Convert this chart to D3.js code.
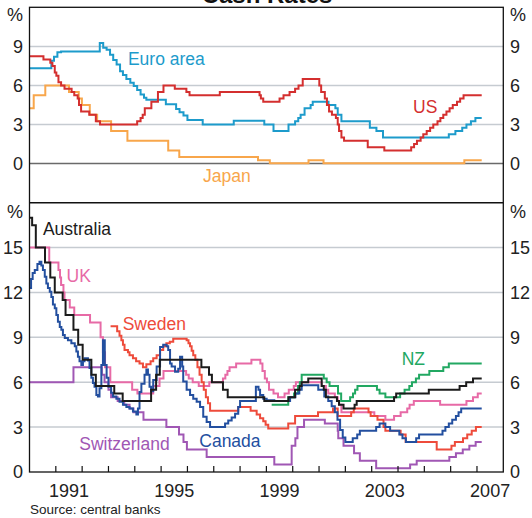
<!DOCTYPE html>
<meta charset="utf-8">
<style>
body { margin: 0; background: #fff; }
svg text { font-family: Arial, "Liberation Sans", Helvetica, sans-serif; }
.tick text, .lbl { font-size: 18px; fill: #222; }
.grid { stroke: #c6cbd1; stroke-width: 1.5; }
.series { fill: none; stroke-width: 2; }
</style>
<body>
<script src="https://d3js.org/d3.v7.min.js"></script>
<script>

// [year, rate %] step data, each value holds until the next entry
let us = [[1990.0,8.25],[1990.53,8.0],[1990.79,7.75],[1990.87,7.5],[1990.96,7.0],[1991.02,6.75],[1991.1,6.25],[1991.2,6.0],[1991.33,5.75],[1991.6,5.5],[1991.7,5.25],[1991.83,5.0],[1991.88,4.5],[1991.96,4.0],[1992.27,3.75],[1992.52,3.25],[1992.68,3.0],[1994.09,3.25],[1994.22,3.5],[1994.3,3.75],[1994.38,4.25],[1994.63,4.75],[1994.88,5.5],[1995.09,6.0],[1995.52,5.75],[1995.96,5.5],[1996.08,5.25],[1997.23,5.5],[1998.74,5.25],[1998.79,5.0],[1998.88,4.75],[1999.5,5.0],[1999.65,5.25],[1999.88,5.5],[2000.09,5.75],[2000.22,6.0],[2000.38,6.5],[2001.01,6.0],[2001.08,5.5],[2001.22,5.0],[2001.3,4.5],[2001.38,4.0],[2001.49,3.75],[2001.64,3.5],[2001.71,3.0],[2001.76,2.5],[2001.85,2.0],[2001.95,1.75],[2002.85,1.25],[2003.48,1.0],[2004.5,1.25],[2004.61,1.5],[2004.72,1.75],[2004.86,2.0],[2004.96,2.25],[2005.09,2.5],[2005.22,2.75],[2005.34,3.0],[2005.5,3.25],[2005.61,3.5],[2005.72,3.75],[2005.84,4.0],[2005.96,4.25],[2006.08,4.5],[2006.24,4.75],[2006.36,5.0],[2006.49,5.25],[2007.18,5.25]];

let euro = [[1990.0,7.33],[1990.83,7.9],[1990.93,8.2],[1991.06,8.55],[1991.2,8.6],[1992.67,9.25],[1992.8,8.9],[1992.93,8.75],[1993.06,8.35],[1993.18,7.95],[1993.31,7.6],[1993.44,7.1],[1993.55,6.8],[1993.68,6.5],[1993.83,6.2],[1993.96,5.95],[1994.09,5.65],[1994.22,5.3],[1994.35,5.05],[1994.44,4.9],[1995.18,4.55],[1995.57,4.2],[1995.7,3.95],[1995.85,3.7],[1996.0,3.35],[1996.58,3.0],[1997.76,3.3],[1998.92,3.0],[1999.27,2.5],[1999.84,3.0],[2000.09,3.25],[2000.21,3.5],[2000.3,3.75],[2000.45,4.25],[2000.68,4.5],[2000.76,4.75],[2001.36,4.5],[2001.62,4.25],[2001.71,3.75],[2001.85,3.25],[2002.93,2.75],[2003.18,2.5],[2003.43,2.0],[2005.93,2.25],[2006.18,2.5],[2006.44,2.75],[2006.6,3.0],[2006.77,3.25],[2006.94,3.5],[2007.18,3.5]];

let japan = [[1990.0,4.25],[1990.16,5.25],[1990.6,6.0],[1991.5,5.5],[1991.87,5.0],[1991.99,4.5],[1992.29,3.75],[1992.57,3.25],[1993.1,2.5],[1993.72,1.75],[1995.27,1.0],[1995.69,0.5],[1998.68,0.25],[1999.13,0.02],[2000.6,0.25],[2001.17,0.02],[2006.52,0.25],[2007.18,0.25]];

let australia = [[1990.0,17.0],[1990.1,16.5],[1990.24,15.0],[1990.59,14.0],[1990.79,13.0],[1990.96,12.0],[1991.26,11.5],[1991.37,10.5],[1991.67,9.5],[1991.85,8.5],[1992.02,7.5],[1992.35,6.5],[1992.52,5.75],[1993.22,5.25],[1993.54,4.75],[1994.62,5.5],[1994.81,6.5],[1994.95,7.5],[1996.53,7.0],[1996.82,6.5],[1996.93,6.0],[1997.35,5.5],[1997.53,5.0],[1998.92,4.75],[1999.84,5.0],[2000.09,5.5],[2000.26,5.75],[2000.34,6.0],[2000.59,6.25],[2001.1,5.75],[2001.18,5.5],[2001.26,5.0],[2001.68,4.75],[2001.76,4.5],[2001.93,4.25],[2002.35,4.5],[2002.43,4.75],[2003.85,5.0],[2003.93,5.25],[2005.17,5.5],[2006.34,5.75],[2006.59,6.0],[2006.85,6.25],[2007.18,6.25]];

let uk = [[1990.0,15.0],[1990.75,14.0],[1991.1,13.5],[1991.16,13.0],[1991.2,12.5],[1991.29,12.0],[1991.33,11.5],[1991.53,11.0],[1991.7,10.5],[1992.3,10.0],[1992.7,9.0],[1992.79,8.0],[1992.87,7.0],[1993.07,6.0],[1993.9,5.5],[1994.1,5.25],[1994.7,5.75],[1994.94,6.25],[1995.09,6.75],[1995.95,6.5],[1996.05,6.25],[1996.2,6.0],[1996.43,5.75],[1996.83,6.0],[1997.35,6.25],[1997.44,6.5],[1997.52,6.75],[1997.6,7.0],[1997.85,7.25],[1998.43,7.5],[1998.77,7.25],[1998.85,6.75],[1998.94,6.25],[1999.02,6.0],[1999.1,5.5],[1999.27,5.25],[1999.44,5.0],[1999.69,5.25],[1999.85,5.5],[2000.04,5.75],[2000.12,6.0],[2001.1,5.75],[2001.26,5.5],[2001.35,5.25],[2001.6,5.0],[2001.71,4.75],[2001.76,4.5],[2001.85,4.0],[2003.1,3.75],[2003.52,3.5],[2003.85,3.75],[2004.1,4.0],[2004.35,4.25],[2004.44,4.5],[2004.6,4.75],[2005.6,4.5],[2006.6,4.75],[2006.85,5.0],[2007.03,5.25],[2007.18,5.25]];

let sweden = [[1993.08,9.75],[1993.33,9.4],[1993.42,9.1],[1993.49,8.8],[1993.55,8.5],[1993.61,8.15],[1993.74,8.0],[1993.8,7.8],[1993.93,7.6],[1994.05,7.4],[1994.18,7.25],[1994.31,7.0],[1994.44,7.2],[1994.6,7.4],[1994.7,7.6],[1994.83,7.8],[1994.96,8.15],[1995.08,8.4],[1995.2,8.6],[1995.33,8.7],[1995.46,8.91],[1995.97,8.81],[1996.04,8.61],[1996.1,8.41],[1996.16,8.11],[1996.22,7.81],[1996.3,7.5],[1996.38,7.0],[1996.46,6.5],[1996.54,6.0],[1996.62,5.5],[1996.7,5.0],[1996.78,4.6],[1996.86,4.1],[1997.93,4.35],[1998.4,4.1],[1998.63,3.85],[1998.76,3.6],[1998.88,3.4],[1998.97,3.15],[1999.07,2.9],[1999.83,3.25],[2000.09,3.75],[2000.96,4.0],[2001.53,4.25],[2001.71,3.75],[2002.22,4.0],[2002.32,4.25],[2002.88,4.0],[2002.96,3.75],[2003.22,3.5],[2003.45,3.0],[2003.52,2.75],[2004.1,2.5],[2004.29,2.0],[2005.47,1.5],[2006.03,1.75],[2006.16,2.0],[2006.47,2.25],[2006.63,2.5],[2006.8,2.75],[2006.96,3.0],[2007.18,3.0]];

let canada = [[1990.0,12.3],[1990.06,12.9],[1990.12,13.3],[1990.2,13.5],[1990.3,13.9],[1990.38,14.05],[1990.45,13.8],[1990.51,13.5],[1990.58,13.05],[1990.64,12.6],[1990.7,12.3],[1990.77,12.05],[1990.83,11.7],[1990.89,11.2],[1990.96,10.95],[1991.02,10.5],[1991.08,10.05],[1991.15,9.7],[1991.21,9.5],[1991.27,9.15],[1991.34,8.95],[1991.46,8.8],[1991.59,8.6],[1991.72,8.4],[1991.78,8.05],[1991.84,7.7],[1991.9,7.4],[1991.97,7.15],[1992.03,7.4],[1992.09,7.6],[1992.22,7.45],[1992.28,6.95],[1992.35,6.3],[1992.41,5.95],[1992.47,5.7],[1992.54,5.15],[1992.6,5.05],[1992.66,5.6],[1992.73,7.15],[1992.79,8.8],[1992.86,7.15],[1992.93,6.3],[1993.0,5.7],[1993.1,5.3],[1993.17,5.05],[1993.3,4.9],[1993.42,4.7],[1993.55,4.5],[1993.68,4.35],[1993.8,4.25],[1993.93,4.05],[1994.06,3.85],[1994.12,4.25],[1994.18,5.35],[1994.25,5.9],[1994.37,6.5],[1994.44,6.85],[1994.5,6.5],[1994.56,5.7],[1994.62,5.4],[1994.7,6.15],[1994.83,7.05],[1994.96,8.35],[1995.08,8.5],[1995.21,8.4],[1995.27,8.15],[1995.34,7.25],[1995.4,7.05],[1995.53,6.7],[1995.65,6.9],[1995.72,7.7],[1995.8,7.05],[1995.84,6.05],[1995.97,5.5],[1996.1,5.15],[1996.22,4.9],[1996.35,4.7],[1996.48,4.35],[1996.6,3.7],[1996.73,3.35],[1996.86,3.0],[1997.43,3.25],[1997.55,3.45],[1997.68,3.65],[1997.81,3.9],[1997.93,4.35],[1998.0,4.75],[1998.6,5.7],[1998.7,5.5],[1998.76,5.15],[1998.88,4.9],[1999.01,4.8],[1999.3,4.75],[1999.9,5.0],[2000.1,5.25],[2000.25,5.5],[2000.34,5.8],[2000.97,5.5],[2001.2,5.05],[2001.35,4.75],[2001.48,4.4],[2001.6,4.0],[2001.7,3.5],[2001.8,2.8],[2001.9,2.3],[2002.0,2.0],[2002.28,2.25],[2002.45,2.5],[2002.55,2.75],[2003.17,3.0],[2003.3,3.25],[2003.52,3.0],[2003.7,2.75],[2004.05,2.5],[2004.17,2.25],[2004.3,2.0],[2004.69,2.25],[2004.8,2.5],[2005.69,2.75],[2005.8,3.0],[2005.93,3.25],[2006.06,3.5],[2006.2,3.75],[2006.3,4.0],[2006.4,4.25],[2007.18,4.25]];

let nz = [[1999.2,4.5],[1999.83,5.0],[2000.05,5.25],[2000.2,5.75],[2000.27,6.0],[2000.34,6.5],[2001.18,6.25],[2001.29,6.0],[2001.4,5.75],[2001.72,5.25],[2001.84,4.75],[2002.18,5.0],[2002.29,5.25],[2002.37,5.5],[2002.46,5.75],[2003.2,5.5],[2003.3,5.25],[2003.52,5.0],[2004.08,5.25],[2004.25,5.5],[2004.43,5.75],[2004.53,6.0],[2004.68,6.25],[2004.8,6.5],[2005.19,6.75],[2005.72,7.0],[2005.93,7.25],[2007.18,7.25]];

let switzerland = [[1990.0,6.0],[1991.67,7.0],[1992.75,6.5],[1992.85,6.0],[1993.0,5.5],[1993.1,5.0],[1993.35,4.75],[1993.6,4.5],[1993.8,4.25],[1993.95,4.0],[1994.33,3.5],[1995.2,3.0],[1995.68,2.5],[1995.85,2.0],[1995.98,1.5],[1996.73,1.0],[1999.3,0.5],[1999.96,1.75],[2000.1,2.25],[2000.18,3.0],[2000.43,3.5],[2001.22,3.25],[2001.71,2.75],[2001.73,2.25],[2001.93,1.75],[2002.33,1.25],[2002.55,0.75],[2003.17,0.25],[2004.46,0.5],[2004.71,0.75],[2005.95,1.0],[2006.2,1.25],[2006.46,1.5],[2006.71,1.75],[2006.95,2.0],[2007.18,2.0]];

let topTicks = [0, 3, 6, 9];
let botTicks = [0, 3, 6, 9, 12, 15];
let yearLabels = [1991, 1995, 1999, 2003, 2007];

let width = 532;
let height = 518;
let left = 29.5, right = 503.3;
let topY0 = 7.3, midY = 202.7, botY = 472;

let svg = d3.select("body").append("svg")
    .attr("width", width)
    .attr("height", height);

let x = d3.scaleLinear().domain([1990, 2008]).range([left, right]);
let yTop = d3.scaleLinear().domain([-3, 12]).range([midY, topY0]);
let yBot = d3.scaleLinear().domain([0, 18]).range([botY, midY]);

// gridlines
svg.selectAll(".gt").data(topTicks).enter().append("line")
    .attr("class", "grid")
    .attr("x1", left).attr("x2", right)
    .attr("y1", d => yTop(d)).attr("y2", d => yTop(d))
    .style("stroke", d => d === 0 ? "#6a6a6a" : null);
svg.selectAll(".gb").data(botTicks.filter(d => d > 0)).enter().append("line")
    .attr("class", "grid")
    .attr("x1", left).attr("x2", right)
    .attr("y1", d => yBot(d)).attr("y2", d => yBot(d));

// clip paths
let defs = svg.append("defs");
defs.append("clipPath").attr("id", "ctop").append("rect")
    .attr("x", left).attr("y", topY0).attr("width", right - left).attr("height", midY - topY0);
defs.append("clipPath").attr("id", "cbot").append("rect")
    .attr("x", left).attr("y", midY).attr("width", right - left).attr("height", botY - midY);

function drawSeries(g, data, yScale, color) {
  let line = d3.line()
      .x(d => x(d[0]))
      .y(d => yScale(d[1]))
      .curve(d3.curveStepAfter);
  g.append("path")
      .datum(data)
      .attr("class", "series")
      .attr("d", line)
      .style("stroke", color);
}

let gTop = svg.append("g").attr("clip-path", "url(#ctop)");
drawSeries(gTop, japan, yTop, "#f8a64b");
drawSeries(gTop, euro, yTop, "#1d9bcb");
drawSeries(gTop, us, yTop, "#d42f2f");

let gBot = svg.append("g").attr("clip-path", "url(#cbot)");
drawSeries(gBot, switzerland, yBot, "#a057b4");
drawSeries(gBot, uk, yBot, "#e76aa6");
drawSeries(gBot, nz, yBot, "#22a862");
drawSeries(gBot, sweden, yBot, "#ee4b3b");
drawSeries(gBot, canada, yBot, "#234f9f");
drawSeries(gBot, australia, yBot, "#1b1b1b");

// frames
svg.append("rect")
    .attr("x", left).attr("y", topY0).attr("width", right - left).attr("height", botY - topY0)
    .style("fill", "none").style("stroke", "#111").style("stroke-width", 1.3);
svg.append("line")
    .attr("x1", left).attr("x2", right).attr("y1", midY).attr("y2", midY)
    .style("stroke", "#111").style("stroke-width", 1.5);

// year ticks
svg.selectAll(".yt").data(d3.range(1991, 2008)).enter().append("line")
    .attr("x1", d => x(d)).attr("x2", d => x(d))
    .attr("y1", botY).attr("y2", botY - 6)
    .style("stroke", "#111").style("stroke-width", 1.2);

svg.selectAll(".yl").data(yearLabels).enter().append("text")
    .attr("class", "lbl")
    .attr("x", d => x(d + 0.5))
    .attr("y", 497)
    .attr("text-anchor", "middle")
    .text(d => d);

// y labels, both sides
function yLabels(ticks, scale, pctY) {
  [[23, "end"], [510, "start"]].forEach(function(s) {
    svg.selectAll(null).data(ticks).enter().append("text")
        .attr("class", "lbl")
        .attr("x", s[0])
        .attr("y", d => scale(d))
        .attr("dy", "0.36em")
        .attr("text-anchor", s[1])
        .text(d => d);
    svg.append("text")
        .attr("class", "lbl")
        .attr("x", s[1] === "end" ? 15 : 518)
        .attr("y", pctY)
        .attr("dy", "0.36em")
        .attr("text-anchor", "middle")
        .text("%");
  });
}
yLabels(topTicks, yTop, 14.5);
yLabels(botTicks, yBot, 211.5);

// series names
let names = [
  {t: "Euro area", yr: 1993.74, v: 7.57, s: yTop, c: "#1d9bcb"},
  {t: "US", yr: 2004.57, v: 3.85, s: yTop, c: "#d42f2f"},
  {t: "Japan", yr: 1996.59, v: -1.41, s: yTop, c: "#f8a64b"},
  {t: "Australia", yr: 1990.51, v: 15.84, s: yBot, c: "#1b1b1b"},
  {t: "UK", yr: 1991.41, v: 12.72, s: yBot, c: "#e76aa6"},
  {t: "Sweden", yr: 1993.54, v: 9.49, s: yBot, c: "#ee4b3b"},
  {t: "Switzerland", yr: 1991.89, v: 1.47, s: yBot, c: "#a057b4"},
  {t: "Canada", yr: 1996.45, v: 1.69, s: yBot, c: "#234f9f"},
  {t: "NZ", yr: 2004.14, v: 7.15, s: yBot, c: "#22a862"}
];
svg.selectAll(".nm").data(names).enter().append("text")
    .attr("x", d => x(d.yr))
    .attr("y", d => d.s(d.v))
    .style("font-size", "17.5px")
    .style("fill", d => d.c)
    .text(d => d.t);

// title (cut off at top as in the original)
svg.append("text")
    .attr("x", 267)
    .attr("y", 2.5)
    .attr("text-anchor", "middle")
    .style("font-size", "24px")
    .style("font-weight", "bold")
    .style("fill", "#111")
    .text("Cash Rates");

svg.append("text")
    .attr("x", 30)
    .attr("y", 514)
    .style("font-size", "13.5px")
    .style("fill", "#222")
    .text("Source: central banks");

</script>
